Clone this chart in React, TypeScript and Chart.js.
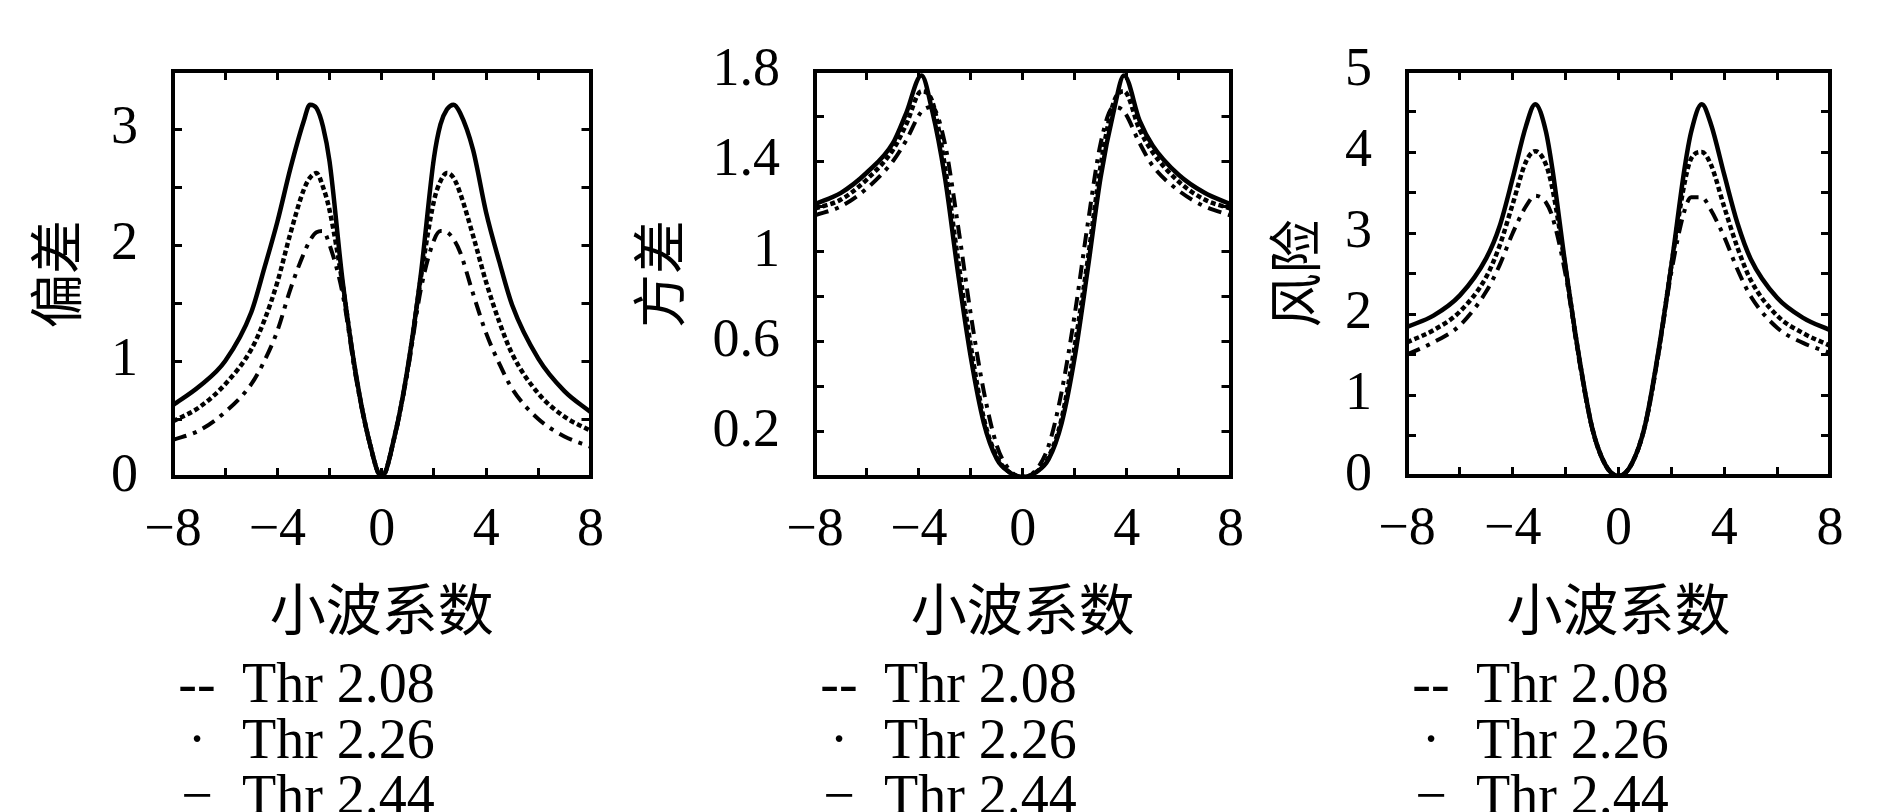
import React, { useEffect, useRef } from 'react';
import { Chart, registerables } from 'chart.js';

Chart.register(...registerables);

// ---------- data ----------
const THRESHOLDS = ['Thr 2.08', 'Thr 2.26', 'Thr 2.44'];
const LEGEND_MARKS = ['--', '·', '−'];
const X_TITLE = '小波系数';
const Y_TITLES = ['偏差', '方差', '风险'];

const X_TICK_VALUES = [-8, -4, 0, 4, 8];
const X_TICK_LABELS = ['−8', '−4', '0', '4', '8'];

const BIAS_TICK_VALUES = [0, 1, 2, 3];
const BIAS_TICK_LABELS = ['0', '1', '2', '3'];
const VAR_TICK_VALUES = [0.2, 0.6, 1, 1.4, 1.8];
const VAR_TICK_LABELS = ['0.2', '0.6', '1', '1.4', '1.8'];
const RISK_TICK_VALUES = [0, 1, 2, 3, 4, 5];
const RISK_TICK_LABELS = ['0', '1', '2', '3', '4', '5'];

// Panel 1: bias
const BIAS_X = [-8, -7, -6, -5, -4.5, -4, -3.5, -3, -2.75, -2.5, -2.25, -2, -1.5, -1, -0.5, 0,
  0.5, 1, 1.5, 2, 2.25, 2.5, 2.75, 3, 3.5, 4, 4.5, 5, 6, 7, 8];
const BIAS_208 = [0.32, 0.40, 0.56, 0.80, 1.00, 1.26, 1.62, 1.92, 2.04, 2.11, 2.12, 2.00, 1.58, 0.87, 0.32, 0,
  0.35, 0.92, 1.62, 2.04, 2.12, 2.11, 2.05, 1.94, 1.58, 1.24, 0.98, 0.76, 0.50, 0.35, 0.26];
const BIAS_226 = [0.48, 0.60, 0.80, 1.10, 1.35, 1.68, 2.10, 2.47, 2.58, 2.62, 2.50, 2.30, 1.66, 0.89, 0.33, 0,
  0.36, 0.94, 1.72, 2.38, 2.55, 2.62, 2.58, 2.45, 2.08, 1.68, 1.34, 1.06, 0.72, 0.52, 0.40];
const BIAS_244 = [0.62, 0.78, 1.00, 1.42, 1.80, 2.20, 2.66, 3.06, 3.21, 3.18, 3.02, 2.72, 1.69, 0.90, 0.33, 0,
  0.36, 0.95, 1.75, 2.75, 3.04, 3.17, 3.21, 3.14, 2.82, 2.28, 1.86, 1.48, 1.02, 0.74, 0.56];

// Panel 2: variance
const VAR_X = [-8, -7, -6, -5, -4.5, -3.9, -3.5, -3, -2.5, -2, -1.5, -1, -0.5, 0,
  0.5, 1, 1.5, 2, 2.5, 3, 3.5, 3.9, 4.5, 5, 6, 7, 8];
const VAR_208 = [1.16, 1.20, 1.28, 1.40, 1.49, 1.62, 1.64, 1.48, 1.12, 0.72, 0.38, 0.14, 0.03, 0,
  0.03, 0.14, 0.38, 0.72, 1.12, 1.48, 1.64, 1.62, 1.48, 1.38, 1.27, 1.20, 1.16];
const VAR_226 = [1.19, 1.23, 1.32, 1.45, 1.56, 1.71, 1.67, 1.38, 0.97, 0.58, 0.26, 0.09, 0.02, 0,
  0.02, 0.09, 0.26, 0.58, 0.96, 1.38, 1.66, 1.71, 1.54, 1.44, 1.31, 1.23, 1.19];
const VAR_244 = [1.21, 1.26, 1.35, 1.48, 1.61, 1.78, 1.63, 1.33, 0.91, 0.53, 0.24, 0.08, 0.02, 0,
  0.02, 0.08, 0.24, 0.53, 0.92, 1.33, 1.62, 1.78, 1.58, 1.47, 1.34, 1.26, 1.21];

// Panel 3: risk
const RISK_X = [-8, -7, -6, -5, -4.5, -4, -3.5, -3.15, -2.75, -2.5, -2, -1.5, -1, -0.5, 0,
  0.5, 1, 1.5, 2, 2.5, 2.75, 3.15, 3.5, 4, 4.5, 5, 6, 7, 8];
const RISK_208 = [1.50, 1.65, 1.86, 2.28, 2.60, 3.00, 3.33, 3.46, 3.38, 3.20, 2.48, 1.45, 0.59, 0.14, 0,
  0.15, 0.61, 1.48, 2.52, 3.28, 3.44, 3.44, 3.28, 2.95, 2.55, 2.22, 1.83, 1.64, 1.52];
const RISK_226 = [1.65, 1.80, 2.03, 2.46, 2.84, 3.36, 3.88, 4.01, 3.85, 3.55, 2.56, 1.48, 0.60, 0.14, 0,
  0.15, 0.62, 1.50, 2.60, 3.62, 3.92, 4.00, 3.84, 3.32, 2.82, 2.42, 1.98, 1.76, 1.61];
const RISK_244 = [1.84, 1.98, 2.23, 2.69, 3.08, 3.68, 4.32, 4.59, 4.26, 3.79, 2.58, 1.49, 0.60, 0.14, 0,
  0.15, 0.62, 1.52, 2.60, 3.80, 4.25, 4.59, 4.34, 3.72, 3.12, 2.68, 2.20, 1.95, 1.80];

// ---------- styling / layout ----------
const CANVAS_H = 665;
const LINE_WIDTHS = [4, 4.5, 4.5];
const DASHES: number[][] = [[14, 7, 4, 7], [5, 3], []];
const SERIF = '"Liberation Serif", "Times New Roman", serif';
const CJK = '"Noto Sans CJK SC", "Noto Sans CJK JP", sans-serif';

type Panel = {
  yTitle: string;
  xs: number[];
  series: number[][];
  yMax: number;
  yStep: number;
  yTickValues: number[];
  yTickLabels: string[];
  canvasLeft: number;
  canvasWidth: number;
  boxLeft: number;
  boxRight: number;
  boxTop: number;
  boxBottom: number;
  yTitlePad: number;
};

const PANELS: Panel[] = [
  {
    yTitle: Y_TITLES[0], xs: BIAS_X, series: [BIAS_208, BIAS_226, BIAS_244],
    yMax: 3.5, yStep: 0.5, yTickValues: BIAS_TICK_VALUES, yTickLabels: BIAS_TICK_LABELS,
    canvasLeft: 0, canvasWidth: 640, boxLeft: 173, boxRight: 603, boxTop: 50, boxBottom: 477, yTitlePad: 29,
  },
  {
    yTitle: Y_TITLES[1], xs: VAR_X, series: [VAR_208, VAR_226, VAR_244],
    yMax: 1.8, yStep: 0.2, yTickValues: VAR_TICK_VALUES, yTickLabels: VAR_TICK_LABELS,
    canvasLeft: 620, canvasWidth: 660, boxLeft: 815, boxRight: 1242, boxTop: 47, boxBottom: 477, yTitlePad: 12,
  },
  {
    yTitle: Y_TITLES[2], xs: RISK_X, series: [RISK_208, RISK_226, RISK_244],
    yMax: 5, yStep: 0.5, yTickValues: RISK_TICK_VALUES, yTickLabels: RISK_TICK_LABELS,
    canvasLeft: 1250, canvasWidth: 636, boxLeft: 1407, boxRight: 1830, boxTop: 47, boxBottom: 476, yTitlePad: 18,
  },
];

function lookupLabel(v: number, values: number[], labels: string[]): string {
  for (let i = 0; i < values.length; i++) {
    if (Math.abs(values[i] - v) < 1e-6) return labels[i];
  }
  return '';
}

const gridOpts = () => ({
  display: true,
  drawOnChartArea: false,
  drawTicks: true,
  tickLength: -9,
  tickWidth: 3,
  tickColor: '#000',
  color: '#000',
  lineWidth: 3,
});
const borderOpts = () => ({ display: true, color: '#000', width: 4 });

function PanelChart({ p }: { p: Panel }) {
  const ref = useRef<HTMLCanvasElement | null>(null);
  useEffect(() => {
    if (!ref.current) return;
    const datasets = p.series.map((ys, i) => ({
      label: THRESHOLDS[i],
      data: p.xs.map((x, j) => ({ x, y: ys[j] })),
      borderColor: '#000',
      backgroundColor: '#000',
      borderWidth: LINE_WIDTHS[i],
      borderDash: DASHES[i],
      pointRadius: 0,
      fill: false,
      cubicInterpolationMode: 'monotone' as const,
      xAxisID: 'x',
      yAxisID: 'y',
    }));
    const tickFont = { family: SERIF, size: 54, lineHeight: 1 };
    const chart = new Chart(ref.current, {
      type: 'line',
      data: { datasets },
      options: {
        animation: false,
        responsive: false,
        devicePixelRatio: 1,
        layout: { padding: { top: p.boxTop, left: 0, right: 0, bottom: 0 } },
        plugins: {
          legend: { display: false },
          tooltip: { enabled: false },
          title: { display: false },
        },
        scales: {
          x: {
            type: 'linear',
            position: 'bottom',
            min: -8,
            max: 8,
            grid: gridOpts(),
            border: borderOpts(),
            ticks: {
              stepSize: 2,
              autoSkip: false,
              maxRotation: 0,
              padding: 36,
              color: '#000',
              font: tickFont,
              callback: (v: any) => lookupLabel(Number(v), X_TICK_VALUES, X_TICK_LABELS),
            },
            title: {
              display: true,
              text: X_TITLE,
              color: '#000',
              font: { family: CJK, size: 56, lineHeight: 1 },
              padding: { top: 0, bottom: 28 },
            },
            afterFit: (s: any) => { s.height = CANVAS_H - p.boxBottom; },
          },
          xTop: {
            type: 'linear',
            position: 'top',
            min: -8,
            max: 8,
            grid: gridOpts(),
            border: borderOpts(),
            ticks: { stepSize: 2, autoSkip: false, maxRotation: 0, callback: () => '' },
            afterFit: (s: any) => { s.height = 0; },
          },
          y: {
            type: 'linear',
            position: 'left',
            min: 0,
            max: p.yMax,
            grid: gridOpts(),
            border: borderOpts(),
            ticks: {
              stepSize: p.yStep,
              autoSkip: false,
              padding: 44,
              color: '#000',
              font: tickFont,
              callback: (v: any) => lookupLabel(Number(v), p.yTickValues, p.yTickLabels),
            },
            title: {
              display: true,
              text: p.yTitle,
              color: '#000',
              font: { family: CJK, size: 54, lineHeight: 1 },
              padding: { top: p.yTitlePad, bottom: 0 },
            },
            afterFit: (s: any) => { s.width = p.boxLeft - p.canvasLeft; },
          },
          yRight: {
            type: 'linear',
            position: 'right',
            min: 0,
            max: p.yMax,
            grid: gridOpts(),
            border: borderOpts(),
            ticks: { stepSize: p.yStep, autoSkip: false, callback: () => '' },
            afterFit: (s: any) => { s.width = p.canvasLeft + p.canvasWidth - p.boxRight; },
          },
        },
      } as any,
    });
    return () => chart.destroy();
  }, [p]);

  return (
    <canvas
      ref={ref}
      width={p.canvasWidth}
      height={CANVAS_H}
      style={{ position: 'absolute', left: p.canvasLeft, top: 0, width: p.canvasWidth, height: CANVAS_H }}
    />
  );
}

function PanelLegend({ p }: { p: Panel }) {
  const rowTops = [655, 711, 767];
  return (
    <>
      {THRESHOLDS.map((t, i) => (
        <div
          key={t}
          style={{
            position: 'absolute',
            top: rowTops[i],
            left: 0,
            height: 56,
            fontFamily: SERIF,
            fontSize: 56,
            lineHeight: '56px',
            color: '#000',
            whiteSpace: 'nowrap',
          }}
        >
          <span style={{ position: 'absolute', left: p.boxLeft + 3, width: 42, textAlign: 'center' }}>
            {LEGEND_MARKS[i]}
          </span>
          <span style={{ position: 'absolute', left: p.boxLeft + 69 }}>{t}</span>
        </div>
      ))}
    </>
  );
}

export default function App() {
  return (
    <div
      style={{
        position: 'fixed',
        left: 0,
        top: 0,
        width: 1886,
        height: 812,
        overflow: 'hidden',
        background: '#fff',
      }}
    >
      {PANELS.map((p, i) => (
        <React.Fragment key={i}>
          <PanelChart p={p} />
          <PanelLegend p={p} />
        </React.Fragment>
      ))}
    </div>
  );
}
